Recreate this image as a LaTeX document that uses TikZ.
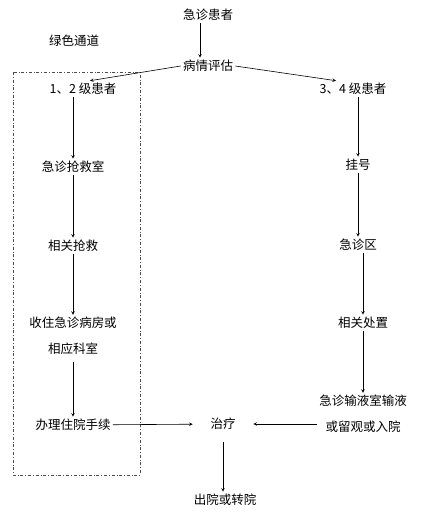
\documentclass[tikz,border=0pt]{standalone}
\usepackage{fontspec}
\setmainfont{Noto Sans CJK SC}
\usetikzlibrary{calc}
\tikzset{every node/.append style={font=\fontsize{12.5}{26}\selectfont, inner sep=2pt, text height=10pt, text depth=2pt}}

\begin{document}
\begin{tikzpicture}[x=1pt, y=-1pt, >=stealth, line width=0.6pt]
    \useasboundingbox (0,0) rectangle (446,517);
    \draw[dash dot, black!70, line width=0.5pt] (13,72) rectangle (140,475);
    \node (start) at (208,15) {急诊患者};
    \node (green) at (74,41) {绿色通道};
    \node (eval) at (208,66) {病情评估};
    \node (l12) at (83,89) {1、2 级患者};
    \node (l34) at (353,89) {3、4 级患者};
    \node (rescue) at (73,167) {急诊抢救室};
    \node (save) at (73,246) {相关抢救};
    \node[align=center, text height=, text depth=] (ward) at (73,336) {收住急诊病房或\\相应科室};
    \node (admit) at (73,425) {办理住院手续};
    \node (reg) at (358,165) {挂号};
    \node (area) at (358,245) {急诊区};
    \node (handle) at (363,323) {相关处置};
    \node[align=center, text height=, text depth=] (infuse) at (363,414) {急诊输液室输液\\或留观或入院};
    \node[minimum width=60pt, minimum height=36pt] (treat) at (223,424) {治疗};
    \node (out) at (225,500) {出院或转院};
    \draw[->] ([xshift=-8pt]start.south) -- ([xshift=-8pt]eval.north);
    \draw[->] (eval.west) -- ([xshift=7pt]l12.north);
    \draw[->] (eval.east) -- ([xshift=-17pt]l34.north);
    \draw[->] (l12.south -| rescue) -- (rescue);
    \draw[->] (rescue) -- (save);
    \draw[->] (save) -- (ward);
    \draw[->, shorten <=5pt] (ward) -- (admit);
    \draw[->] (admit) -- (treat);
    \draw[->] (l34.south -| reg) -- (reg);
    \draw[->] (reg) -- (area);
    \draw[->] (area.south -| handle) -- (handle);
    \draw[->] (handle) -- (infuse);
    \draw[->] (infuse.west |- treat) -- (treat.east);
    \draw[->] (treat) -- (treat |- out.north);
\end{tikzpicture}
\end{document}
